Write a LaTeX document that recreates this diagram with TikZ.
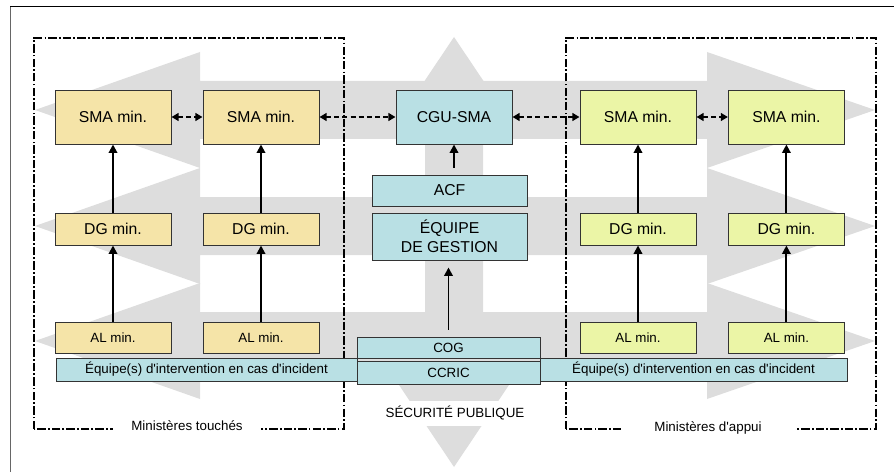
\documentclass[tikz,border=0pt]{standalone}
\usepackage{fontspec}
\setmainfont{Liberation Sans}
\definecolor{TouchedTan}{RGB}{245, 228, 168}
\definecolor{SupportLime}{RGB}{235, 245, 166}
\definecolor{CentreCyan}{RGB}{185, 224, 228}
\definecolor{FlowGray}{RGB}{221, 221, 221}
\usetikzlibrary{arrows.meta, positioning, calc}
\newcommand{\bigtxt}{\fontsize{11.2}{13.4}\selectfont}
\newcommand{\smalltxt}{\fontsize{9.5}{11.4}\selectfont}
\tikzset{
  box/.style={rectangle, draw=black!80, line width=0.7pt, fill=#1,
              minimum width=2.9cm, minimum height=1.35cm, inner sep=1pt,
              font=\bigtxt, text=black, align=center},
  smallbox/.style={box=#1, font=\smalltxt},
  arr/.style={-{Triangle[length=6pt, width=6pt]}, line width=1.4pt, color=#1},
  darr/.style={{Triangle[length=5pt, width=5.5pt]}-{Triangle[length=5pt, width=5.5pt]},
               line width=1.5pt, dash pattern=on 3.6pt off 2.2pt, color=#1},
  grpframe/.style={line width=1.3pt, dash pattern=on 6pt off 1.5pt on 1.3pt off 1.5pt},
  grplabel/.style={fill=white, font=\smalltxt, inner ysep=2pt},
}

\begin{document}
\begin{tikzpicture}
  \useasboundingbox (0,0) rectangle (22.35,11.8);

  % grey flow arrows
  \foreach \y in {9.05, 6.15, 3.275}
    \fill[FlowGray] (0.875,\y) -- (5,\y+1.45) -- (5,\y+0.725) -- (17.675,\y+0.725)
      -- (17.675,\y+1.45) -- (21.875,\y) -- (17.675,\y-1.45) -- (17.675,\y-0.725)
      -- (5,\y-0.725) -- (5,\y-1.45) -- cycle;
  \fill[FlowGray] (11.35,10.875) -- (12.775,8.75) -- (12.075,8.75) -- (12.075,2.25)
    -- (12.775,2.25) -- (11.35,0.125) -- (9.925,2.25) -- (10.625,2.25)
    -- (10.625,8.75) -- (9.925,8.75) -- cycle;

  % outer frame
  \draw[line width=0.6pt, black!60] (0.25,0) -- (0.25,11.65);
  \draw[line width=0.6pt] (0.25,11.65) -- (22.35,11.65);

  % ministry groups
  \draw[grpframe] (0.85,1.075) rectangle (8.6,10.85);
  \draw[grpframe] (14.15,1.075) rectangle (21.9,10.85);
  \node[grplabel, inner xsep=0.47cm] (lblT) at (4.675,1.15) {Ministères touchés};
  \node[grplabel, inner xsep=0.83cm] (lblA) at (17.7,1.1) {Ministères d\textquotesingle appui};

  % ministries touched
  \node[box=TouchedTan] (smaA) at (2.825,8.875) {SMA min.};
  \node[box=TouchedTan] (smaB) at (6.525,8.875) {SMA min.};
  \node[box=TouchedTan, minimum height=0.8cm] (dgA) at (2.825,6.075) {DG min.};
  \node[box=TouchedTan, minimum height=0.8cm] (dgB) at (6.525,6.075) {DG min.};
  \node[smallbox=TouchedTan, minimum height=0.775cm] (alA) at (2.825,3.36) {AL min.};
  \node[smallbox=TouchedTan, minimum height=0.775cm] (alB) at (6.525,3.36) {AL min.};

  % supporting ministries
  \node[box=SupportLime] (smaC) at (15.95,8.875) {SMA min.};
  \node[box=SupportLime] (smaD) at (19.66,8.875) {SMA min.};
  \node[box=SupportLime, minimum height=0.8cm] (dgC) at (15.95,6.075) {DG min.};
  \node[box=SupportLime, minimum height=0.8cm] (dgD) at (19.66,6.075) {DG min.};
  \node[smallbox=SupportLime, minimum height=0.775cm] (alC) at (15.95,3.36) {AL min.};
  \node[smallbox=SupportLime, minimum height=0.775cm] (alD) at (19.66,3.36) {AL min.};

  % centre
  \node[box=CentreCyan] (cgu) at (11.35,8.875) {CGU-SMA};
  \node[box=CentreCyan, minimum width=3.875cm, minimum height=0.775cm] (acf)
       at (11.2375,7.0375) {ACF};
  \node[box=CentreCyan, minimum width=3.875cm, minimum height=1.175cm] (gest)
       at (11.2375,5.8875) {ÉQUIPE\\DE GESTION};
  \node[smallbox=CentreCyan, minimum width=7.525cm, minimum height=0.575cm] (eqL)
       at (5.1625,2.5625) {Équipe(s) d\textquotesingle intervention en cas d\textquotesingle incident};
  \node[smallbox=CentreCyan, minimum width=7.675cm, minimum height=0.575cm] (eqR)
       at (17.3375,2.5625) {Équipe(s) d\textquotesingle intervention en cas d\textquotesingle incident};
  \node[smallbox=CentreCyan, minimum width=4.575cm, minimum height=0.525cm] (cog)
       at (11.2125,3.1125) {COG};
  \node[smallbox=CentreCyan, minimum width=4.575cm, minimum height=0.575cm] (ccric)
       at (11.2125,2.4875) {CCRIC};
  \node[fill=white, font=\smalltxt, minimum height=0.625cm, inner xsep=1pt] (secu)
       at (11.375,1.475) {SÉCURITÉ PUBLIQUE};

  % reporting lines
  \foreach \c in {A,B,C,D} {
    \draw[arr=black] (dg\c) -- (sma\c);
    \draw[arr=black] (al\c) -- (dg\c);
  }
  \draw[arr=black, shorten <=0.175cm] (acf.north -| cgu.south) -- (cgu.south);
  \draw[arr=black, shorten <=0.175cm, shorten >=0.175cm] (cog.north) -- (cog.north |- gest.south);

  % coordination
  \draw[darr=black] (smaA) -- (smaB);
  \draw[darr=black] (smaB) -- (cgu);
  \draw[darr=black] (cgu) -- (smaC);
  \draw[darr=black] (smaC) -- (smaD);
\end{tikzpicture}
\end{document}
